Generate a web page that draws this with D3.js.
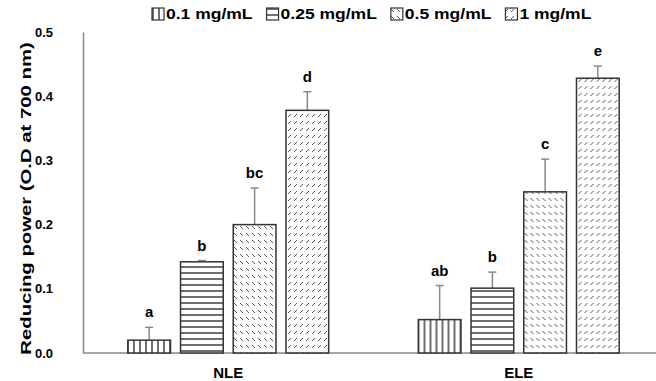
<!DOCTYPE html>
<html>
<head>
<meta charset="utf-8">
<script src="https://cdn.jsdelivr.net/npm/d3@7"></script>
<style>
    body { margin: 0; background: #fff; }
    text { font-family: "Liberation Sans", Arial, sans-serif; font-weight: bold; fill: #000; }
</style>
</head>
<body>
<svg class="chart" width="656" height="381"></svg>
<script>
'use strict';

var PLOT = { left: 83, right: 656, top: 32, bottom: 353 };
var BAND_RIGHT = 664;       // groups are spaced a bit wider than the visible axis
var LEGEND_STRETCH = 1.25;  // the original legend text is wider than the font's normal width
var TITLE_STRETCH = 1.45;

// data
var groups = ['NLE', 'ELE'];
var concentrations = ['0.1 mg/mL', '0.25 mg/mL', '0.5 mg/mL', '1 mg/mL'];
var nleValues = [0.020, 0.142, 0.200, 0.378];
var nleErrors = [0.020, 0.002, 0.057, 0.029];
var nleLetters = ['a', 'b', 'bc', 'd'];
var eleValues = [0.052, 0.101, 0.251, 0.428];
var eleErrors = [0.053, 0.025, 0.051, 0.019];
var eleLetters = ['ab', 'b', 'c', 'e'];
var yTicks = [0, 0.1, 0.2, 0.3, 0.4, 0.5];
var yTitle = 'Reducing power (O.D  at 700 nm)';

var patternIds = ['pat-vert', 'pat-horiz', 'pat-back', 'pat-fwd'];

var chart = d3.select('.chart');

// build rows from the named arrays
var rows = [];
groups.forEach(function (g, gi) {
    var vals = gi === 0 ? nleValues : eleValues;
    var errs = gi === 0 ? nleErrors : eleErrors;
    var lets = gi === 0 ? nleLetters : eleLetters;
    concentrations.forEach(function (c, ci) {
        rows.push({ group: g, conc: c, idx: ci, value: vals[ci], err: errs[ci], letter: lets[ci] });
    });
});

var x0 = d3.scaleBand()
    .domain(groups)
    .range([PLOT.left, BAND_RIGHT]);

var x1 = d3.scaleBand()
    .domain(concentrations)
    .range([0, x0.bandwidth()])
    .paddingInner(0.19)
    .paddingOuter(0.85);

var y = d3.scaleLinear()
    .domain([0, 0.5])
    .range([PLOT.bottom, PLOT.top]);

renderPatterns(chart);
renderAxes(chart);
renderBars(chart);
renderLegend(chart);

/**
 * Fill patterns for the four concentrations
 */
function renderPatterns(svg) {
    var defs = svg.append('defs');

    var p = defs.append('pattern').attr('id', 'pat-vert')
        .attr('patternUnits', 'userSpaceOnUse').attr('width', 6).attr('height', 6);
    p.append('rect').attr('width', 6).attr('height', 6).attr('fill', '#fff');
    p.append('line').attr('x1', 3).attr('x2', 3).attr('y1', 0).attr('y2', 6)
        .attr('stroke', '#222').attr('stroke-width', 1.3);

    p = defs.append('pattern').attr('id', 'pat-horiz')
        .attr('patternUnits', 'userSpaceOnUse').attr('width', 6).attr('height', 6);
    p.append('rect').attr('width', 6).attr('height', 6).attr('fill', '#fff');
    p.append('line').attr('x1', 0).attr('x2', 6).attr('y1', 3).attr('y2', 3)
        .attr('stroke', '#222').attr('stroke-width', 1.3);

    p = defs.append('pattern').attr('id', 'pat-back')
        .attr('patternUnits', 'userSpaceOnUse').attr('width', 6).attr('height', 7);
    p.append('rect').attr('width', 6).attr('height', 7).attr('fill', '#fff');
    p.append('line').attr('x1', 1).attr('x2', 4).attr('y1', 2).attr('y2', 5)
        .attr('stroke', '#555').attr('stroke-width', 1);

    p = defs.append('pattern').attr('id', 'pat-fwd')
        .attr('patternUnits', 'userSpaceOnUse').attr('width', 6).attr('height', 7);
    p.append('rect').attr('width', 6).attr('height', 7).attr('fill', '#fff');
    p.append('line').attr('x1', 1).attr('x2', 4).attr('y1', 5).attr('y2', 2)
        .attr('stroke', '#555').attr('stroke-width', 1);
}

/**
 * Stretch a text element along its baseline
 */
function stretchText(sel, factor) {
    sel.each(function () {
        var len = this.getComputedTextLength();
        d3.select(this)
            .attr('textLength', len * factor)
            .attr('lengthAdjust', 'spacingAndGlyphs');
    });
}

/**
 * Axes, tick labels and titles
 */
function renderAxes(svg) {
    var yAxis = d3.axisLeft(y)
        .tickValues(yTicks)
        .tickFormat(d3.format('.1f'))
        .tickSize(0)
        .tickPadding(30);

    var gy = svg.append('g')
        .attr('transform', 'translate(' + PLOT.left + ',0)')
        .call(yAxis);
    gy.select('.domain').attr('stroke', '#888').attr('stroke-width', 1.5);
    gy.selectAll('text').style('font-size', '13px').attr('fill', '#000');

    var xAxis = d3.axisBottom(x0).tickSize(0).tickPadding(14);
    var gx = svg.append('g')
        .attr('transform', 'translate(0,' + PLOT.bottom + ')')
        .call(xAxis);
    gx.select('.domain')
        .attr('d', 'M' + PLOT.left + ',0H' + PLOT.right)
        .attr('stroke', '#888').attr('stroke-width', 1.5);
    gx.selectAll('text').style('font-size', '15px').attr('fill', '#000');

    var title = svg.append('text')
        .attr('transform', 'translate(31,' + ((PLOT.top + PLOT.bottom) / 2 + 6) + ') rotate(-90)')
        .attr('text-anchor', 'middle')
        .style('font-size', '14px')
        .text(yTitle);
    stretchText(title, TITLE_STRETCH);
}

/**
 * Bars, error bars and significance letters
 */
function renderBars(svg) {
    var g = svg.append('g');

    var bar = g.selectAll('g.bar')
        .data(rows)
        .enter()
        .append('g')
        .attr('class', 'bar')
        .attr('transform', function (d) { return 'translate(' + x0(d.group) + ',0)'; });

    // error bar
    bar.append('line')
        .attr('x1', function (d) { return x1(d.conc) + x1.bandwidth() / 2; })
        .attr('x2', function (d) { return x1(d.conc) + x1.bandwidth() / 2; })
        .attr('y1', function (d) { return y(d.value); })
        .attr('y2', function (d) { return y(d.value + d.err); })
        .attr('stroke', '#888').attr('stroke-width', 1.5);
    bar.append('line')
        .attr('x1', function (d) { return x1(d.conc) + x1.bandwidth() / 2 - 4; })
        .attr('x2', function (d) { return x1(d.conc) + x1.bandwidth() / 2 + 4; })
        .attr('y1', function (d) { return y(d.value + d.err); })
        .attr('y2', function (d) { return y(d.value + d.err); })
        .attr('stroke', '#888').attr('stroke-width', 1.5);

    bar.append('rect')
        .attr('x', function (d) { return x1(d.conc); })
        .attr('y', function (d) { return y(d.value); })
        .attr('width', x1.bandwidth())
        .attr('height', function (d) { return y(0) - y(d.value); })
        .attr('fill', function (d) { return 'url(#' + patternIds[d.idx] + ')'; })
        .attr('stroke', '#333').attr('stroke-width', 1.5);

    bar.append('text')
        .attr('x', function (d) { return x1(d.conc) + x1.bandwidth() / 2; })
        .attr('y', function (d) { return y(d.value + d.err) - 10; })
        .attr('text-anchor', 'middle')
        .style('font-size', '15px')
        .text(function (d) { return d.letter; });
}

/**
 * Legend row on top
 */
function renderLegend(svg) {
    var lg = svg.append('g');
    var cx = 152;
    concentrations.forEach(function (c, i) {
        lg.append('rect')
            .attr('x', cx).attr('y', 8).attr('width', 12).attr('height', 12)
            .attr('fill', 'url(#' + patternIds[i] + ')')
            .attr('stroke', '#333').attr('stroke-width', 1.2);
        var t = lg.append('text')
            .attr('x', cx + 14).attr('y', 19)
            .style('font-size', '14px')
            .text(c);
        var w = t.node().getComputedTextLength() * LEGEND_STRETCH;
        t.attr('textLength', w).attr('lengthAdjust', 'spacingAndGlyphs');
        cx += 14 + w + 14;
    });
}
</script>
</body>
</html>
